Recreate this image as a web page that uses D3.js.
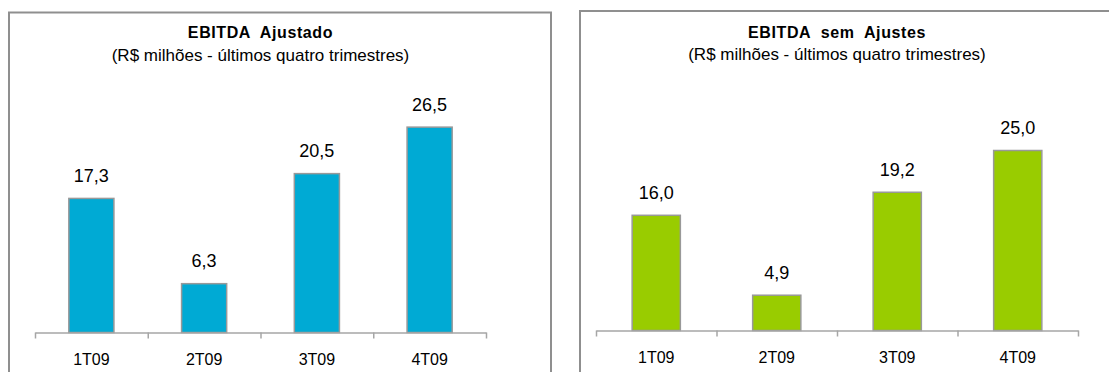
<!DOCTYPE html>
<html>
<head>
<meta charset="utf-8">
<script src="https://cdn.jsdelivr.net/npm/d3@7"></script>
<style>
  body { margin: 0; background: #fff; }
  svg text { font-family: "Liberation Sans", Arial, sans-serif; fill: #000; }
</style>
</head>
<body>
<div id="chart"></div>
<script>
// data
var categories = ["1T09", "2T09", "3T09", "4T09"];
var ajustado = [17.3, 6.3, 20.5, 26.5];
var semAjustes = [16.0, 4.9, 19.2, 25.0];
var titles = ["EBITDA Ajustado", "EBITDA sem Ajustes"];
var subtitle = "(R$ milhões - últimos quatro trimestres)";

var width = 1109,
    height = 372;

var svg = d3.select("#chart")
    .append("svg")
    .attr("width", width)
    .attr("height", height);

var fmt = d3.formatLocale({decimal: ",", thousands: ".", grouping: [3], currency: ["R$", ""]}).format(".1f");

// panel layout
var panels = [
    {values: ajustado, title: titles[0], color: "#00AAD4",
     box: [9, 12.5, 551, 380], x0: 35, x1: 486, base: 332.5, top: 100, titleY: 38, subY: 61},
    {values: semAjustes, title: titles[1], color: "#99CC00",
     box: [580, 11, 1116, 380], x0: 596, x1: 1078, base: 330.5, top: 114.5, titleY: 37.5, subY: 60}
];

panels.forEach(function (p) {
    var g = svg.append("g");

    g.append("rect")
        .attr("x", p.box[0])
        .attr("y", p.box[1])
        .attr("width", p.box[2] - p.box[0])
        .attr("height", p.box[3] - p.box[1])
        .attr("fill", "#fff")
        .attr("stroke", "#8f8f8f")
        .attr("stroke-width", 2);

    var cx = (p.x0 + p.x1) / 2;

    g.append("text")
        .attr("x", cx)
        .attr("y", p.titleY)
        .attr("text-anchor", "middle")
        .style("font-size", "16px")
        .style("font-weight", "bold")
        .style("letter-spacing", "0.6px")
        .style("word-spacing", "5px")
        .text(p.title);

    g.append("text")
        .attr("x", cx)
        .attr("y", p.subY)
        .attr("text-anchor", "middle")
        .style("font-size", "17px")
        .text(subtitle);

    var x = d3.scaleBand()
        .domain(categories)
        .range([p.x0, p.x1])
        .paddingInner(0.6)
        .paddingOuter(0.3);

    var y = d3.scaleLinear()
        .domain([0, 30])
        .range([p.base, p.top]);

    // bars
    g.selectAll("rect.bar")
        .data(p.values)
        .enter()
        .append("rect")
        .attr("class", "bar")
        .attr("x", function (d, i) { return x(categories[i]); })
        .attr("y", function (d) { return y(d); })
        .attr("width", x.bandwidth())
        .attr("height", function (d) { return y(0) - y(d); })
        .attr("fill", p.color)
        .attr("stroke", "#999")
        .attr("stroke-width", 1.5);

    // value labels
    g.selectAll("text.val")
        .data(p.values)
        .enter()
        .append("text")
        .attr("class", "val")
        .attr("x", function (d, i) { return x(categories[i]) + x.bandwidth() / 2; })
        .attr("y", function (d) { return y(d) - 16.5; })
        .attr("text-anchor", "middle")
        .style("font-size", "18px")
        .text(function (d) { return fmt(d); });

    // axis with ticks on category boundaries
    var xb = d3.scaleLinear().domain([0, categories.length]).range([p.x0, p.x1]);
    var axis = g.append("g")
        .attr("transform", "translate(0," + p.base + ")")
        .call(d3.axisBottom(xb)
            .tickValues(d3.range(categories.length + 1))
            .tickFormat("")
            .tickSize(6)
            .tickSizeOuter(0));
    axis.select(".domain").attr("stroke", "#a6a6a6").attr("stroke-width", 1.5);
    axis.selectAll(".tick line").attr("stroke", "#a6a6a6").attr("stroke-width", 1.5);

    var labels = g.append("g")
        .attr("transform", "translate(0," + p.base + ")")
        .call(d3.axisBottom(x).tickSize(0).tickPadding(0));
    labels.select(".domain").remove();
    labels.selectAll(".tick text")
        .attr("dy", null)
        .attr("y", 32.5)
        .style("font-size", "16px")
        .style("font-family", "'Liberation Sans', Arial, sans-serif")
        .attr("fill", "#000");
});
</script>
</body>
</html>
